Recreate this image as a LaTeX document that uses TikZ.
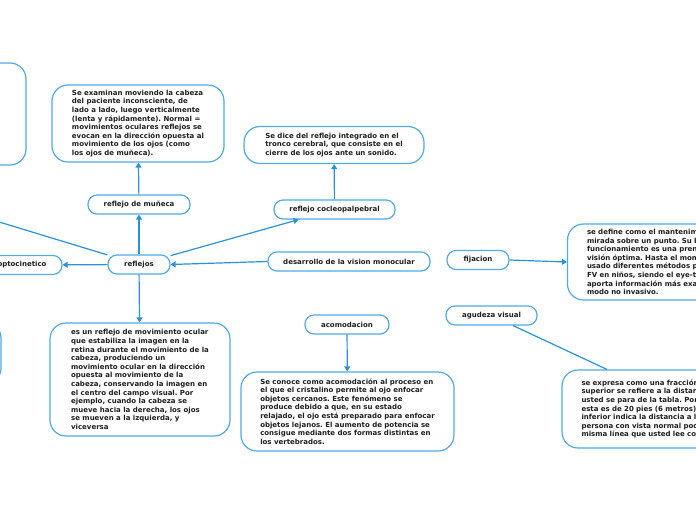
\documentclass[tikz,border=0pt]{standalone}
\usepackage{fontspec}
\setmainfont{DejaVu Sans}
\usetikzlibrary{arrows.meta, positioning}
\usepackage{xcolor}
\definecolor{Ink}{HTML}{1F1F1F}
\definecolor{Edge}{HTML}{52AAE6}
\definecolor{Wire}{HTML}{2A92D8}
\frenchspacing

\begin{document}
\begin{tikzpicture}[
            x=1pt, y=-1pt,
            topic/.style={
                rectangle,
                draw=Edge,
                fill=white,
                line width=1.2pt,
                rounded corners=9pt,
                minimum height=19pt,
                inner sep=0pt,
                font=\fontsize{7}{8.6}\selectfont\bfseries,
                text=Ink
            },
            textbox/.style={
                topic,
                rounded corners=16pt,
                align=left
            },
            cutbox/.style={
                textbox,
                inner xsep=19.5pt,
                text width=220pt
            },
            arrow/.style={-{Triangle[length=5pt, width=6pt]}, line width=1.2pt, color=Wire},
            link/.style={line width=1.2pt, color=Wire}
        ]
            \useasboundingbox (0,0) rectangle (696,520);
            \clip (0,0) rectangle (696,520);
            \fill[white] (0,0) rectangle (696,520);

            % Main topics
            \node[topic, minimum width=62pt] (reflejos) at (139,264.5) {reflejos};
            \node[topic, minimum width=102pt] (muneca) at (139,204.5) {reflejo de muñeca};
            \node[topic, minimum width=121pt] (cocleo) at (334.5,209.5) {reflejo cocleopalpebral};
            \node[topic, minimum width=80pt] (opto) at (22,265) {optocinetico};
            \node[topic, minimum width=162pt] (desarrollo) at (349,261.5) {desarrollo de la vision monocular};
            \node[topic, minimum width=62pt] (fijacion) at (478,260) {fijacion};
            \node[topic, minimum width=91pt] (agudeza) at (491.5,315.5) {agudeza visual};
            \node[topic, minimum width=84pt] (acomodacion) at (347,324.5) {acomodacion};

            % Descriptions
            \node[textbox, minimum width=172pt, minimum height=77pt] (munecaTxt) at (138,123.5)
                {Se examinan moviendo la cabeza\\
                 del paciente inconsciente, de\\
                 lado a lado, luego verticalmente\\
                 (lenta y rápidamente). Normal =\\
                 movimientos oculares reflejos se\\
                 evocan en la dirección opuesta al\\
                 movimiento de los ojos (como\\
                 los ojos de muñeca).};
            \node[textbox, minimum width=180pt, minimum height=37pt] (cocleoTxt) at (334,145)
                {Se dice del reflejo integrado en el\\
                 tronco cerebral, que consiste en el\\
                 cierre de los ojos ante un sonido.};
            \node[textbox, minimum width=180pt, minimum height=113pt] (reflejosTxt) at (140,379.5)
                {es un reflejo de movimiento ocular\\
                 que estabiliza la imagen en la\\
                 retina durante el movimiento de la\\
                 cabeza, produciendo un\\
                 movimiento ocular en la dirección\\
                 opuesta al movimiento de la\\
                 cabeza, conservando la imagen en\\
                 el centro del campo visual. Por\\
                 ejemplo, cuando la cabeza se\\
                 mueve hacia la derecha, los ojos\\
                 se mueven a la izquierda, y\\
                 viceversa};
            \node[textbox, minimum width=213pt, minimum height=79pt] (acomTxt) at (347.5,411.5)
                {Se conoce como acomodación al proceso en\\
                 el que el cristalino permite al ojo enfocar\\
                 objetos cercanos. Este fenómeno se\\
                 produce debido a que, en su estado\\
                 relajado, el ojo está preparado para enfocar\\
                 objetos lejanos. El aumento de potencia se\\
                 consigue mediante dos formas distintas en\\
                 los vertebrados.};
            \node[cutbox, minimum height=76pt] (fijTxt) at (697,262)
                {se define como el mantenim\\
                 mirada sobre un punto. Su b\\
                 funcionamiento es una pren\\
                 visión óptima. Hasta el mom\\
                 usado diferentes métodos p\\
                 FV en niños, siendo el eye-t\\
                 aporta información más exa\\
                 modo no invasivo.};
            \node[cutbox, minimum height=78pt] (agudTxt) at (691.5,409)
                {se expresa como una fracción\\
                 superior se refiere a la distan\\
                 usted se para de la tabla. Por\\
                 esta es de 20 pies (6 metros)\\
                 inferior indica la distancia a l\\
                 persona con vista normal pod\\
                 misma línea que usted lee co};

            % Boxes cut by the border
            \node[textbox, minimum width=170pt, minimum height=102pt] (leftTop) at (-59,114) {};
            \node[textbox, minimum width=170pt, minimum height=62pt] (leftLow) at (-84,353) {};
            \coordinate (leftEnd) at (-60,204);

            % Connectors
            \draw[arrow] (reflejos) -- (muneca);
            \draw[arrow] (muneca) -- (munecaTxt);
            \draw[arrow] (reflejos) -- (cocleo);
            \draw[arrow] (cocleo) -- (cocleoTxt);
            \draw[link] (reflejos) -- (leftEnd);
            \draw[arrow] (reflejos) -- (opto);
            \draw[arrow] (reflejos) -- (reflejosTxt);
            \draw[arrow] (desarrollo.west) -- (reflejos.east);
            \draw[arrow] (fijacion.east) -- (fijTxt.west);
            \draw[link] (agudeza) -- (agudTxt);
            \draw[arrow] (acomodacion) -- (acomTxt);
        \end{tikzpicture}
\end{document}
